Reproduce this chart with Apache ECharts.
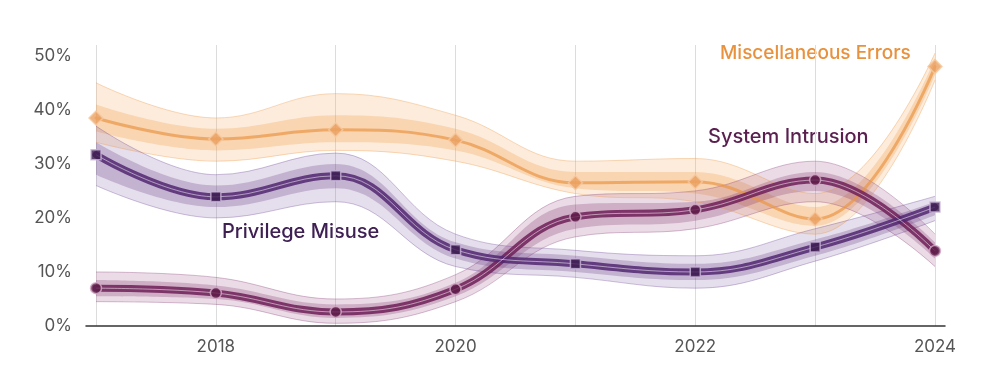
<!DOCTYPE html>
<html>
<head>
<meta charset="utf-8">
<script src="https://cdn.jsdelivr.net/npm/echarts@6/dist/echarts.min.js"></script>
<style>
  html, body { margin: 0; padding: 0; background: #fff; }
  #chart { width: 1002px; height: 377px; }
</style>
</head>
<body>
<div id="chart"></div>
<script>
const years = ['2017', '2018', '2019', '2020', '2021', '2022', '2023', '2024']
const yearLabels = ['2018', '2020', '2022', '2024']

// main estimates (%)
const miscErrors = [38.5, 34.6, 36.3, 34.4, 26.5, 26.7, 19.8, 48.0]
const sysIntrusion = [7.0, 6.1, 2.6, 6.8, 20.2, 21.5, 27.0, 13.9]
const privMisuse = [31.7, 23.9, 27.8, 14.1, 11.5, 10.0, 14.6, 22.0]

// full spread of the thin sample lines
const miscHigh = [45, 38.5, 43, 39, 30.5, 31, 24.5, 50.5]
const miscLow = [34, 30.5, 32.5, 30.5, 24.5, 23, 17, 45.5]
const sysHigh = [10, 9, 5, 9.5, 24, 25, 30.5, 17]
const sysLow = [4.5, 4, 0.5, 4.5, 16.5, 18, 23, 11]
const privHigh = [37, 28, 32, 17, 14, 13, 18, 24]
const privLow = [26, 20, 23, 11, 9, 7, 12, 19.5]

// where the sample lines are densest
const miscCoreHigh = [41, 36.5, 39, 36.5, 28.5, 28.5, 22, 49.5]
const miscCoreLow = [36, 32.5, 34, 32.5, 25.5, 24.5, 18.5, 46.5]
const sysCoreHigh = [8.5, 7.5, 4, 8, 22.5, 23, 28.5, 15.5]
const sysCoreLow = [5.5, 5, 1.5, 5.5, 18, 19.5, 25, 12.5]
const privCoreHigh = [34, 26, 30, 15.5, 13, 11.5, 16, 23]
const privCoreLow = [28, 22, 25.5, 12.5, 10, 8.5, 13, 20.5]

function band(name, low, high, fill, edge, edgeWidth) {
  const diff = high.map((h, i) => +(h - low[i]).toFixed(2))
  return [
    {
      name: name + '-low', type: 'line', smooth: 0.4, stack: name,
      data: low, symbol: 'none', z: 2,
      lineStyle: { width: edgeWidth, color: edge }
    },
    {
      name: name + '-high', type: 'line', smooth: 0.4, stack: name,
      data: diff, symbol: 'none', z: 2,
      lineStyle: { width: edgeWidth, color: edge },
      areaStyle: { color: fill }
    }
  ]
}

function mainLine(name, vals, colour, width, centre, marker, markerColour, borderColour, size) {
  const out = [
    {
      name: name, type: 'line', smooth: 0.4, data: vals, symbol: 'none', z: 5,
      lineStyle: { width: width, color: colour, cap: 'round' }
    },
    {
      name: name + '-marks', type: 'scatter', data: vals, z: 7,
      symbol: marker, symbolSize: size,
      itemStyle: { color: markerColour, borderColor: borderColour, borderWidth: 1.5 }
    }
  ]
  if (centre) {
    out.push({
      name: name + '-centre', type: 'line', smooth: 0.4, data: vals, symbol: 'none', z: 6,
      lineStyle: { width: 1, color: 'rgba(255,255,255,0.5)' }
    })
  }
  return out
}

const chart = echarts.init(document.getElementById('chart'))

chart.setOption({
  animation: false,
  textStyle: { fontFamily: 'Inter, "Noto Sans", sans-serif' },
  grid: [
    { left: 96, right: 67, top: 45, bottom: 51 },
    { left: 86, right: 57, top: 45, bottom: 51 }
  ],
  xAxis: [
    {
      type: 'category', data: years, boundaryGap: false, gridIndex: 0,
      axisLine: { show: false },
      axisTick: { show: false },
      splitLine: { show: true, interval: 0, lineStyle: { color: '#dcdcdc', width: 1 } },
      axisLabel: {
        color: '#555', fontSize: 17, margin: 12,
        interval: (i, v) => yearLabels.includes(v)
      }
    },
    {
      // only the base line, a little wider than the data
      type: 'value', gridIndex: 1, min: 0, max: 1,
      axisLine: { show: true, lineStyle: { color: '#333', width: 1.5 } },
      axisTick: { show: false },
      axisLabel: { show: false },
      splitLine: { show: false }
    }
  ],
  yAxis: [
    {
      type: 'value', min: 0, max: 52, interval: 10, gridIndex: 0,
      splitLine: { show: false },
      axisLine: { show: false },
      axisTick: { show: false },
      axisLabel: {
        color: '#555', fontSize: 17, margin: 24,
        formatter: (v) => (v % 10 === 0 ? v + '%' : '')
      }
    },
    { type: 'value', gridIndex: 1, show: false }
  ],
  graphic: [
    { type: 'text', left: 720, top: 44, style: { text: 'Miscellaneous Errors', fill: '#e8923e', font: '500 19px Inter, sans-serif' } },
    { type: 'text', left: 708, top: 127, style: { text: 'System Intrusion', fill: '#5a1f4f', font: '500 20px Inter, sans-serif' } },
    { type: 'text', left: 222, top: 222, style: { text: 'Privilege Misuse', fill: '#3f2053', font: '500 20px Inter, sans-serif' } }
  ],
  series: [
    ...band('misc', miscLow, miscHigh, 'rgba(244,170,95,0.32)', 'rgba(236,150,70,0.45)', 0.8),
    ...band('miscCore', miscCoreLow, miscCoreHigh, 'rgba(238,150,65,0.38)', 'rgba(0,0,0,0)', 0),
    ...band('sys', sysLow, sysHigh, 'rgba(150,70,125,0.28)', 'rgba(130,50,110,0.4)', 0.8),
    ...band('sysCore', sysCoreLow, sysCoreHigh, 'rgba(120,35,95,0.35)', 'rgba(0,0,0,0)', 0),
    ...band('priv', privLow, privHigh, 'rgba(120,85,160,0.28)', 'rgba(100,60,145,0.4)', 0.8),
    ...band('privCore', privCoreLow, privCoreHigh, 'rgba(85,45,125,0.35)', 'rgba(0,0,0,0)', 0),
    ...mainLine('Miscellaneous Errors', miscErrors, 'rgba(235,150,70,0.7)', 3, false, 'diamond', '#eba060', '#f6c9a0', 14),
    ...mainLine('System Intrusion', sysIntrusion, 'rgba(112,32,88,0.85)', 7, true, 'circle', '#5c1c48', '#d7aecb', 11),
    ...mainLine('Privilege Misuse', privMisuse, 'rgba(84,40,114,0.85)', 7, true, 'rect', '#3c1c50', '#cbb6d9', 10)
  ]
})
</script>
</body>
</html>
